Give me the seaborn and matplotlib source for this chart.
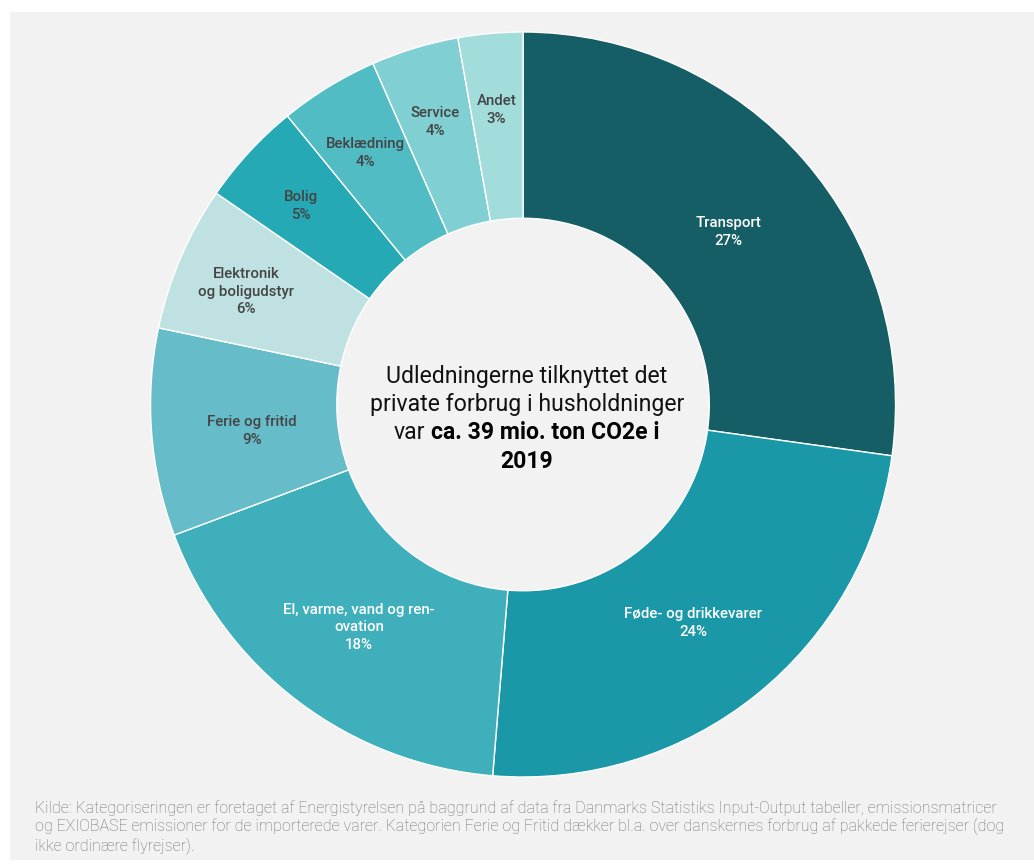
import numpy as np
import matplotlib
matplotlib.use("Agg")
import matplotlib.pyplot as plt
import matplotlib.transforms as mtransforms
import seaborn as sns

# data
kategorier = ["Transport", "Føde- og drikkevarer", "El, varme, vand og ren-\novation",
              "Ferie og fritid", "Elektronik\nog boligudstyr", "Bolig", "Beklædning",
              "Service", "Andet"]
andele = [27.2, 24.1, 18.0, 9.0, 6.3, 4.5, 4.3, 3.8, 2.8]
vist_pct = ["27%", "24%", "18%", "9%", "6%", "5%", "4%", "4%", "3%"]

farver = ["#165e65", "#1a98a7", "#3fafbc", "#66bcc8", "#bfe1e2",
          "#25a9b5", "#52bcc5", "#80cfd3", "#a2dcdb"]
tekstfarver = ["white", "white", "white", "#444444", "#444444",
               "#444444", "#444444", "#444444", "#444444"]

bg = "#f2f2f2"

sns.set_style("white")
plt.rcParams['font.family'] = ['Roboto', 'DejaVu Sans']

fig = plt.figure(figsize=(10.34, 8.67), dpi=100)
fig.patch.set_facecolor("white")
# grå baggrund
fig.patches.append(plt.Rectangle((10/1034, 7/867), 1 - 10/1034, 1 - 19/867,
                                 transform=fig.transFigure, facecolor=bg,
                                 edgecolor="none", zorder=-10))

ax = fig.add_axes([0.1456, 0.1038, 0.7205, 0.8593])
ax.set_facecolor("none")

wedges, _ = ax.pie(andele, colors=farver, startangle=90, counterclock=False,
                   radius=1, wedgeprops=dict(width=0.5, edgecolor="white", linewidth=1))
ax.set_aspect("equal")
ax.set_xlim(-1, 1)
ax.set_ylim(-1, 1)
ax.axis("off")

for w, navn, pct, tf, a in zip(wedges, kategorier, vist_pct, tekstfarver, andele):
    mid = np.deg2rad((w.theta1 + w.theta2) / 2)
    rr = 0.73 if a >= 8 else 0.81
    ax.text(rr * np.cos(mid), rr * np.sin(mid) - 0.016, f"{navn}\n{pct}", ha="center",
            va="center", color=tf, fontsize=10.8, fontweight="medium", linespacing=1.35)

# tekst i midten
fs = 16.6
ax.text(0.01, 0.0765, "Udledningerne tilknyttet det", ha="center", va="center",
        fontsize=fs, color="#111111")
ax.text(0.01, 0.0, "private forbrug i husholdninger", ha="center", va="center",
        fontsize=fs, color="#111111")
ax.text(0.01, -0.152, "2019", ha="center", va="center", fontsize=fs, fontweight="bold",
        color="black")

t1 = ax.text(0.01, -0.076, "var", ha="left", va="center", fontsize=fs, color="#111111")
t2 = ax.text(0.01, -0.076, "ca. 39 mio. ton CO2e i", ha="left", va="center", fontsize=fs,
             fontweight="bold", color="black")
fig.canvas.draw()
r = fig.canvas.get_renderer()
w1 = t1.get_window_extent(r).width
w2 = t2.get_window_extent(r).width
gap = 0.25 * fs * 100 / 72
tot = w1 + gap + w2
t1.set_transform(mtransforms.offset_copy(ax.transData, fig=fig, x=-tot / 2, y=0, units="dots"))
t2.set_transform(mtransforms.offset_copy(ax.transData, fig=fig, x=-tot / 2 + w1 + gap, y=0,
                                         units="dots"))

kilde = ("Kilde: Kategoriseringen er foretaget af Energistyrelsen på baggrund af data fra Danmarks "
         "Statistiks Input-Output tabeller, emissionsmatricer\n"
         "og EXIOBASE emissioner for de importerede varer. Kategorien Ferie og Fritid dækker bl.a. "
         "over danskernes forbrug af pakkede ferierejser (dog\n"
         "ikke ordinære flyrejser).")
fig.text(35/1034, 1 - 800/867, kilde, ha="left", va="top", fontsize=11.5, fontweight="light",
         color="#6f6f6f", linespacing=1.2)

fig.savefig("out.png", dpi=100, facecolor=fig.get_facecolor())
